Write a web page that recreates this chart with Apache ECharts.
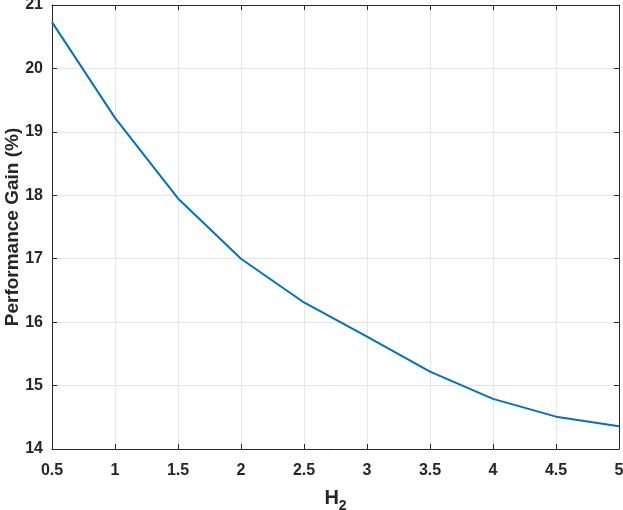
<!DOCTYPE html>
<html>
<head>
<meta charset="utf-8">
<script src="https://cdn.jsdelivr.net/npm/echarts@6/dist/echarts.min.js"></script>
<style>
  html, body { margin: 0; padding: 0; background: #fff; }
  #chart { width: 623px; height: 510px; }
</style>
</head>
<body>
<div id="chart"></div>
<script>
const h2Values = [0.5, 1, 1.5, 2, 2.5, 3, 3.5, 4, 4.5, 5];
const gainValues = [20.73, 19.22, 17.95, 17.0, 16.31, 15.77, 15.22, 14.79, 14.51, 14.36];

const axisColor = "#262626";
const font = "'Liberation Sans', Arial, sans-serif";
const chart = echarts.init(document.getElementById("chart"));

// top/right frame lines of the MATLAB-style box
const frameAxis = {
  axisLine: { show: true, lineStyle: { color: axisColor, width: 1 } },
  axisTick: { show: true, inside: true, length: 5, lineStyle: { color: axisColor } },
  axisLabel: { show: false },
  splitLine: { show: false },
};

chart.setOption({
  animation: false,
  grid: { left: 52, right: 4, top: 5, bottom: 61, outerBoundsMode: "none", containLabel: false },
  xAxis: [{
    type: "value",
    min: 0.5, max: 5, interval: 0.5,
    name: "{b|H}{s|2}",
    nameLocation: "middle",
    nameGap: 34,
    nameMoveOverlap: false,
    nameTextStyle: {
      rich: {
        b: { fontFamily: font, fontWeight: "bold", fontSize: 20, color: axisColor },
        s: { fontFamily: font, fontWeight: "bold", fontSize: 14, color: axisColor, padding: [16, 0, 0, 0] },
      },
    },
    axisLine: { lineStyle: { color: axisColor, width: 1 } },
    axisTick: { inside: true, length: 5, lineStyle: { color: axisColor } },
    axisLabel: { fontFamily: font, fontWeight: "bold", fontSize: 16, color: axisColor, margin: 14 },
    splitLine: { show: true, lineStyle: { color: "#e5e5e5", width: 1 } },
  }, {
    type: "value", position: "top", min: 0.5, max: 5, interval: 0.5, ...frameAxis,
  }],
  yAxis: [{
    type: "value",
    min: 14, max: 21, interval: 1,
    name: "Performance Gain (%)",
    nameLocation: "middle",
    nameGap: 30,
    nameMoveOverlap: false,
    nameTextStyle: { fontFamily: font, fontWeight: "bold", fontSize: 19, color: axisColor },
    axisLine: { show: true, lineStyle: { color: axisColor, width: 1 } },
    axisTick: { show: true, inside: true, length: 5, lineStyle: { color: axisColor } },
    axisLabel: { fontFamily: font, fontWeight: "bold", fontSize: 16, color: axisColor, margin: 9 },
    splitLine: { show: true, lineStyle: { color: "#e5e5e5", width: 1 } },
  }, {
    type: "value", position: "right", min: 14, max: 21, interval: 1, ...frameAxis,
  }],
  series: [{
    type: "line",
    data: h2Values.map((x, i) => [x, gainValues[i]]),
    showSymbol: false,
    lineStyle: { color: "#0072bd", width: 2 },
    itemStyle: { color: "#0072bd" },
  }],
});
</script>
</body>
</html>
